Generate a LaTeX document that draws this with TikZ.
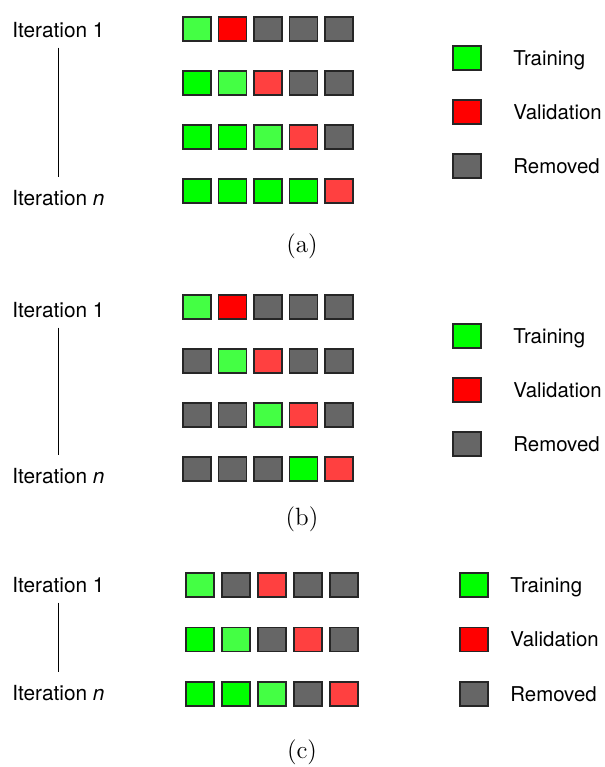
\documentclass[tikz,border=0pt]{standalone}
\usepackage{fontspec}
\newfontfamily\heros{TeX Gyre Heros}
\usepackage{tikz}

\definecolor{trainfull}{RGB}{0,255,0}
\definecolor{trainlast}{RGB}{68,255,68}
\definecolor{valfull}{RGB}{255,0,0}
\definecolor{vallast}{RGB}{255,64,64}
\definecolor{removed}{RGB}{102,102,102}

\tikzset{
  fold/.style={draw=black!85, line width=0.75pt, minimum width=14pt, minimum height=11.8pt, inner sep=0pt},
  itlabel/.style={font=\heros\fontsize{10.4}{12}\selectfont, anchor=base west, inner sep=0pt},
  leglabel/.style={font=\heros\fontsize{10.2}{12}\selectfont, anchor=base west, inner sep=0pt},
  subcap/.style={font=\fontsize{12.5}{14}\selectfont, inner sep=0pt},
  itline/.style={black, line width=0.5pt, shorten <=5pt, shorten >=6pt}
}

\begin{document}
\begin{tikzpicture}[x=0.5pt, y=-0.5pt]
  \useasboundingbox (0,0) rectangle (605,767);

  % (a) growing window
  \node[itlabel] (a-it1) at (12,37) {Iteration 1};
  \node[itlabel] (a-itn) at (12,205) {Iteration \textit{n}};
  \draw[itline] (a-it1.south) -- (a-it1.south |- a-itn.north);
  \foreach \r/\cols in {0/{trainlast,valfull,removed,removed,removed},
                        1/{trainfull,trainlast,vallast,removed,removed},
                        2/{trainfull,trainfull,trainlast,vallast,removed},
                        3/{trainfull,trainfull,trainfull,trainfull,vallast}} {
    \foreach \c [count=\i] in \cols {
      \node[fold, fill=\c] (a-\r-\i) at ({197+35.5*(\i-1)},{29+54*\r}) {};
    }
  }
  \foreach \k/\c/\txt in {0/trainfull/Training, 1/valfull/Validation, 2/removed/Removed} {
    \node[fold, fill=\c] (a-leg\k) at (467,{58+54*\k}) {};
    \node[leglabel] (a-txt\k) at (513,{65+54*\k}) {\txt};
  }
  \node[subcap] (a-cap) at (302,246) {(a)};

  % (b) sliding window
  \node[itlabel] (b-it1) at (12,317) {Iteration 1};
  \node[itlabel] (b-itn) at (12,483) {Iteration \textit{n}};
  \draw[itline] (b-it1.south) -- (b-it1.south |- b-itn.north);
  \foreach \r/\cols in {0/{trainlast,valfull,removed,removed,removed},
                        1/{removed,trainlast,vallast,removed,removed},
                        2/{removed,removed,trainlast,vallast,removed},
                        3/{removed,removed,removed,trainfull,vallast}} {
    \foreach \c [count=\i] in \cols {
      \node[fold, fill=\c] (b-\r-\i) at ({197+35.5*(\i-1)},{307+54*\r}) {};
    }
  }
  \foreach \k/\c/\txt in {0/trainfull/Training, 1/valfull/Validation, 2/removed/Removed} {
    \node[fold, fill=\c] (b-leg\k) at (467,{336+54*\k}) {};
    \node[leglabel] (b-txt\k) at (513,{343+54*\k}) {\txt};
  }
  \node[subcap] (b-cap) at (302,519) {(b)};

  % (c) gap before validation
  \node[itlabel] (c-it1) at (12,592) {Iteration 1};
  \node[itlabel] (c-itn) at (12,700) {Iteration \textit{n}};
  \draw[itline] (c-it1.south) -- (c-it1.south |- c-itn.north);
  \foreach \r/\cols in {0/{trainlast,removed,vallast,removed,removed},
                        1/{trainfull,trainlast,removed,vallast,removed},
                        2/{trainfull,trainfull,trainlast,removed,vallast}} {
    \foreach \c [count=\i] in \cols {
      \node[fold, fill=\c] (c-\r-\i) at ({200+36*(\i-1)},{585+54.5*\r}) {};
    }
  }
  \foreach \k/\c/\txt in {0/trainfull/Training, 1/valfull/Validation, 2/removed/Removed} {
    \node[fold, fill=\c] (c-leg\k) at (474,{585+54.5*\k}) {};
    \node[leglabel] (c-txt\k) at (510,{592+54.5*\k}) {\txt};
  }
  \node[subcap] (c-cap) at (302,752) {(c)};
\end{tikzpicture}
\end{document}
